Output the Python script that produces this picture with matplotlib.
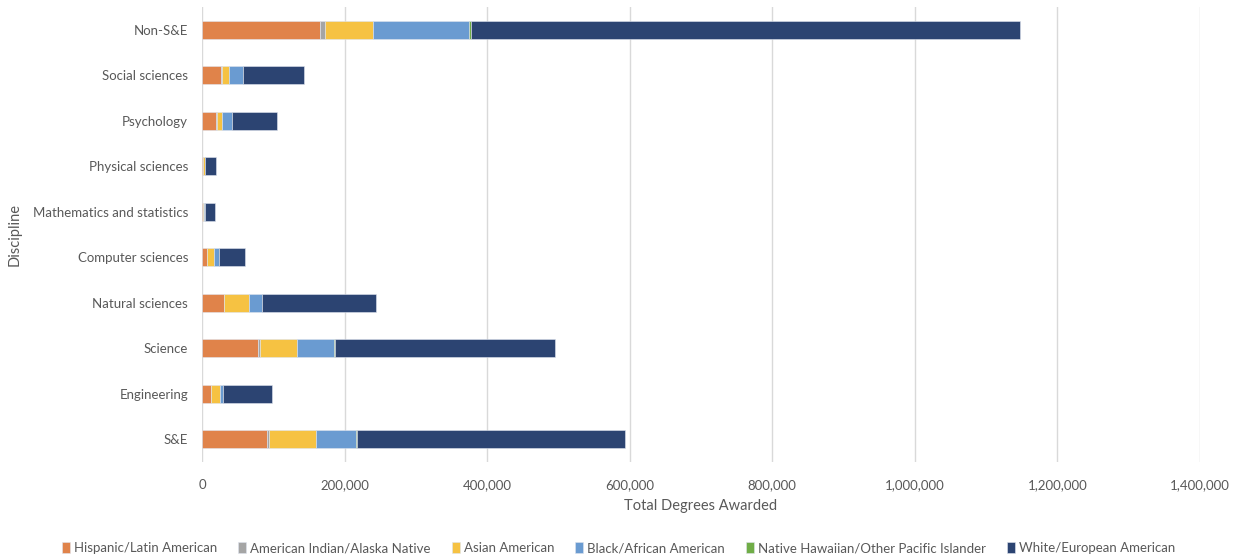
import matplotlib.pyplot as plt
import numpy as np

plt.rcParams['font.family'] = ['Lato', 'DejaVu Sans']

# disciplines, listed bottom to top
disciplines = ['S&E', 'Engineering', 'Science', 'Natural sciences', 'Computer sciences',
               'Mathematics and statistics', 'Physical sciences', 'Psychology',
               'Social sciences', 'Non-S&E']

hispanic = [91600, 12000, 78600, 30500, 7000, 1800, 2000, 19600, 27000, 166000]
amer_indian = [2600, 400, 2300, 800, 300, 100, 100, 800, 1200, 6600]
asian = [65200, 12300, 53000, 34000, 9500, 1500, 1500, 7600, 9800, 67800]
black = [56200, 5200, 50900, 19000, 6500, 800, 900, 14000, 19500, 133600]
pacific = [1500, 200, 1300, 400, 200, 50, 50, 300, 400, 3000]
white = [377000, 68000, 309000, 160000, 37300, 14500, 15000, 62400, 85500, 770000]

groups = ['Hispanic/Latin American', 'American Indian/Alaska Native', 'Asian American',
          'Black/African American', 'Native Hawaiian/Other Pacific Islander',
          'White/European American']
series = [hispanic, amer_indian, asian, black, pacific, white]
colors = ['#E0834A', '#A5A5A5', '#F6C242', '#6A9BD1', '#70AD47', '#2C4472']

fig = plt.figure(figsize=(12.37, 5.58), dpi=100)
ax = fig.add_axes([0.1633, 0.172, 0.8067, 0.8155])

y = np.arange(len(disciplines))
left = np.zeros(len(disciplines))
for name, vals, c in zip(groups, series, colors):
    vals = np.array(vals, dtype=float)
    ax.barh(y, vals, left=left, height=0.4, color=c, label=name,
            edgecolor='#dfe4ee', linewidth=0.4, zorder=3)
    left += vals

ax.set_xlim(0, 1400000)
ax.set_ylim(-0.5, len(disciplines) - 0.5)
ax.set_xticks(np.arange(0, 1400001, 200000))
ax.set_xticklabels([f'{v:,}' for v in range(0, 1400001, 200000)])
ax.set_yticks(y)
ax.set_yticklabels(disciplines)
ax.tick_params(axis='both', length=0, labelsize=9.5, colors='#595959')
ax.tick_params(axis='x', pad=12)
ax.tick_params(axis='y', pad=10)
ax.grid(axis='x', color='#d9d9d9', linewidth=1, zorder=0)
for s in ax.spines.values():
    s.set_visible(False)

ax.set_xlabel('Total Degrees Awarded', fontsize=10.5, color='#595959', labelpad=6)
ax.set_ylabel('Discipline', fontsize=10.5, color='#595959', labelpad=8)

fig.legend(loc='lower center', bbox_to_anchor=(0.5, -0.015), ncol=6, frameon=False,
           fontsize=9.5, handlelength=0.6, handleheight=0.9, handletextpad=0.3,
           columnspacing=1.6, labelcolor='#595959')

fig.savefig('out.png', dpi=100, facecolor='white')
plt.close(fig)
